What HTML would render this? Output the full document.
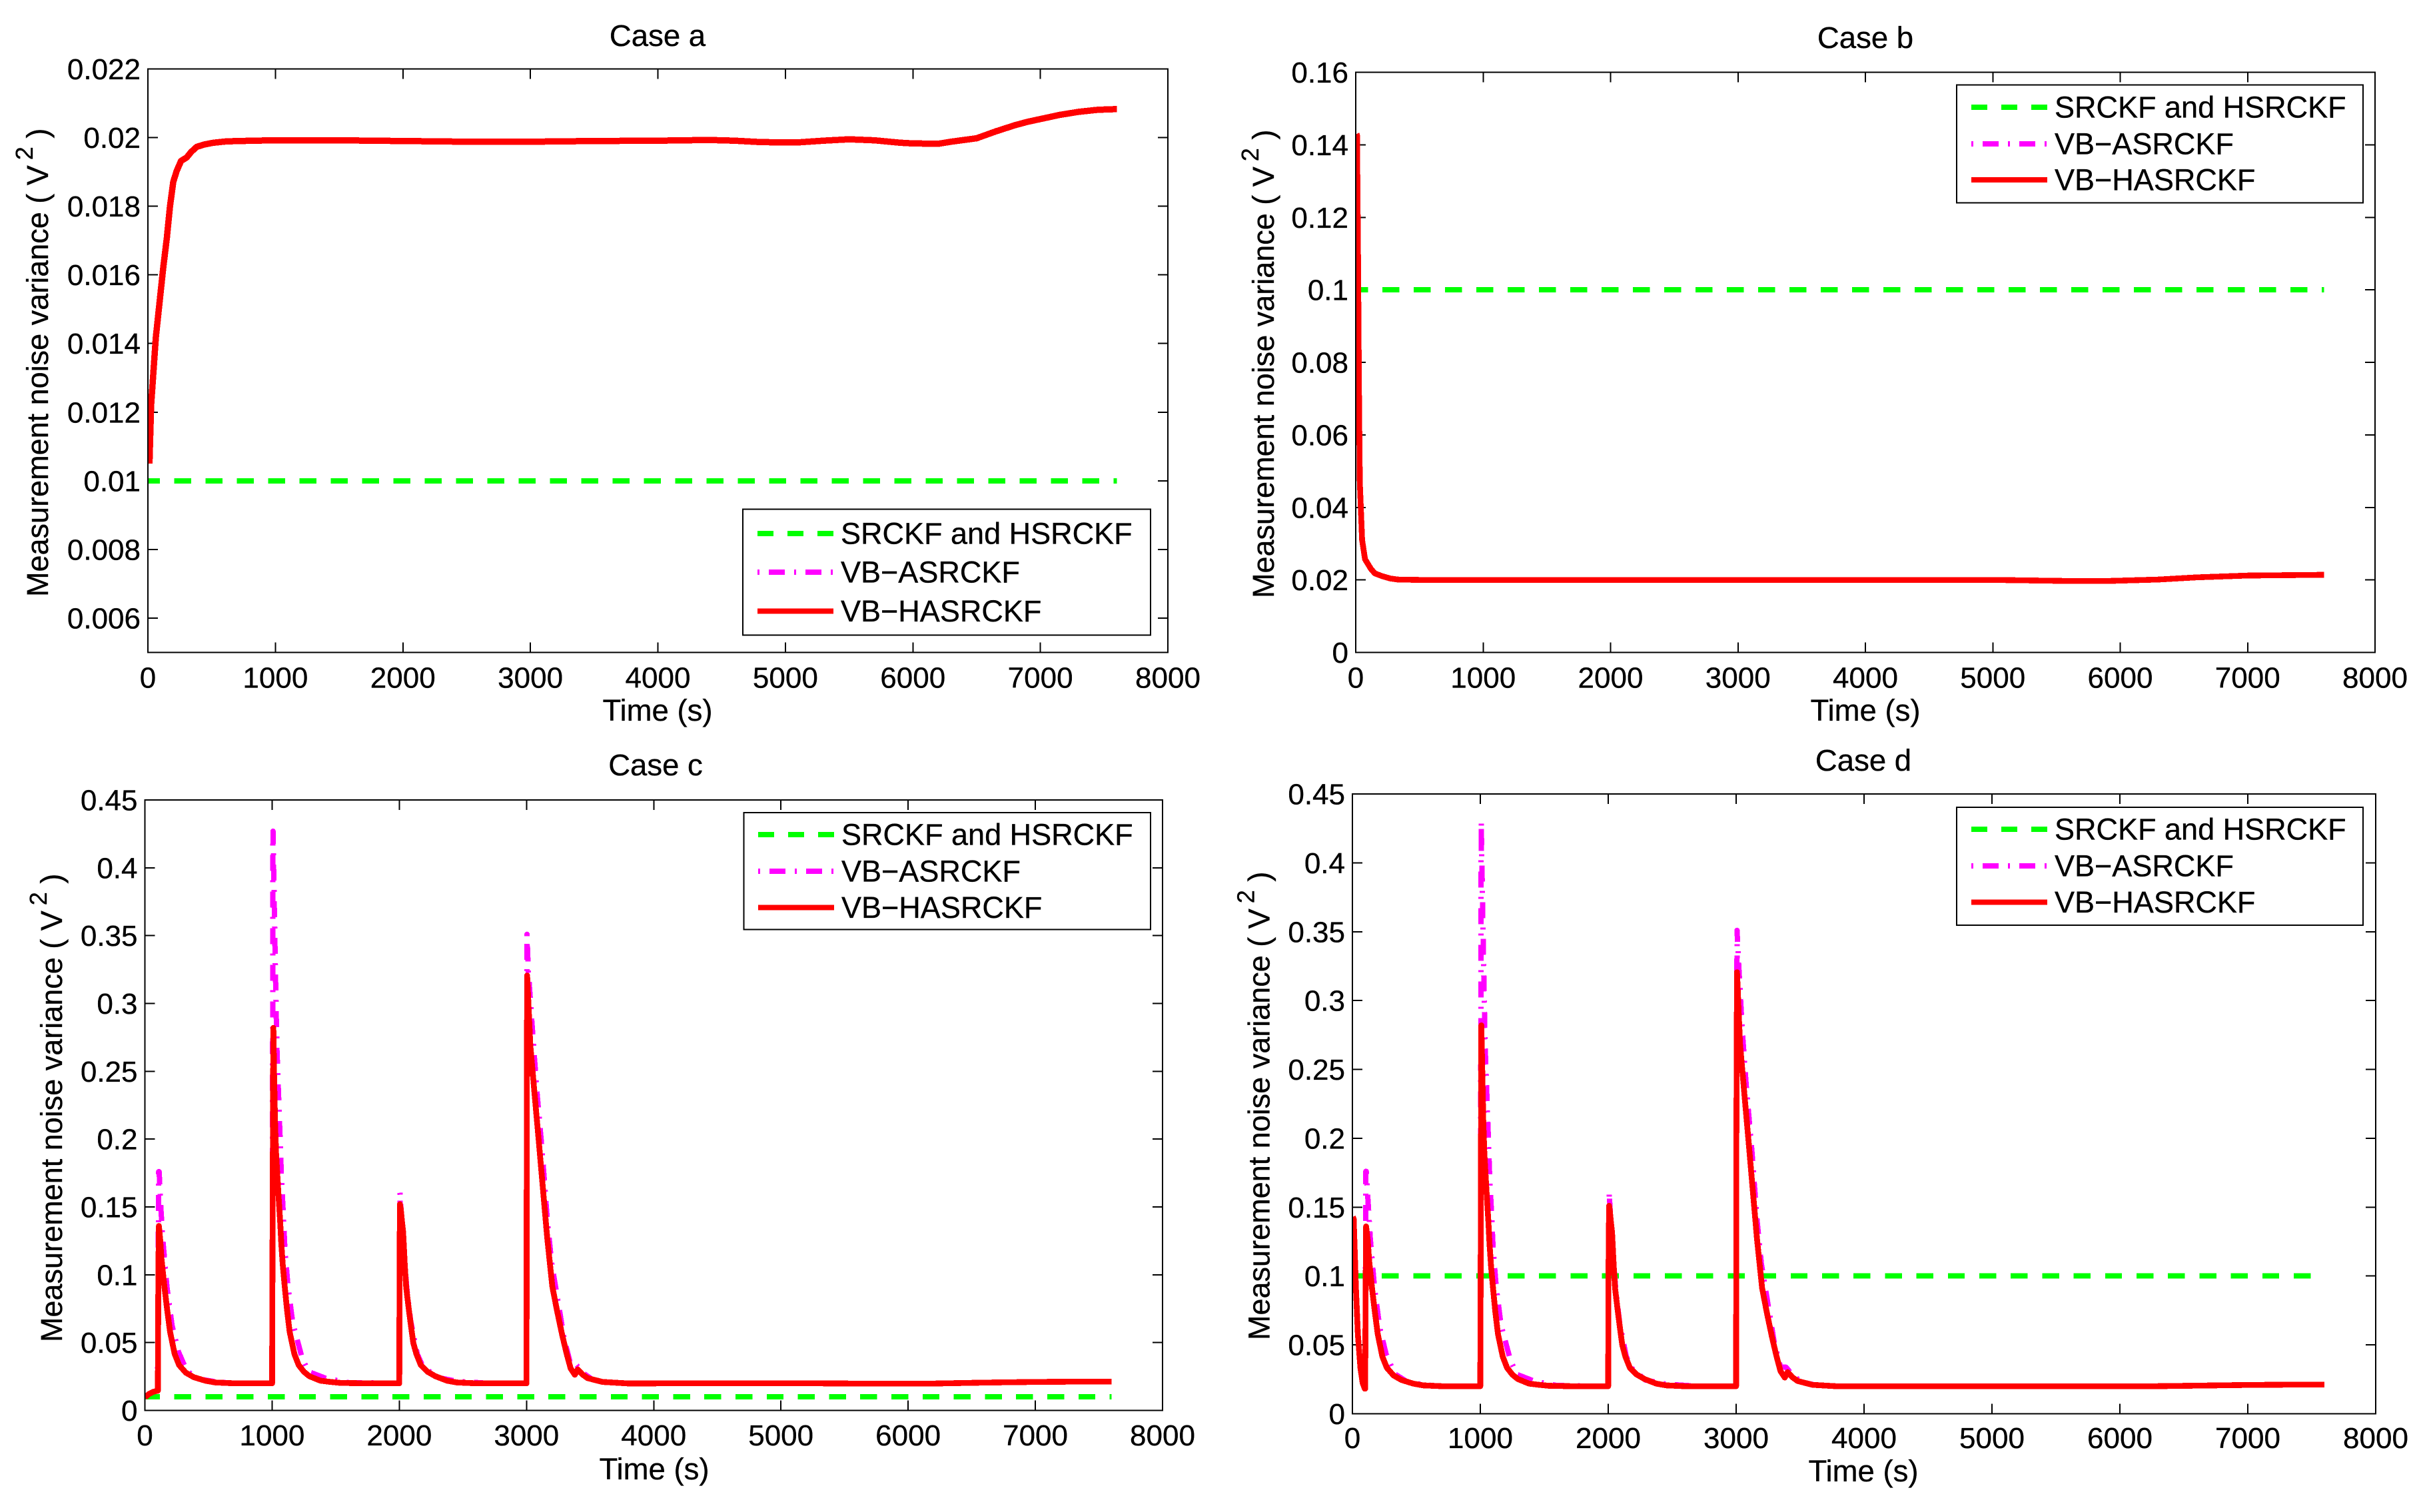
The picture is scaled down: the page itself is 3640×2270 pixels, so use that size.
<!DOCTYPE html>
<html lang="en">
<head>
<meta charset="utf-8">
<title>Measurement noise variance, cases a to d</title>
<style>
  html, body { margin: 0; padding: 0; background: #fff; }
  svg { display: block; }
  text { font-family: "Liberation Sans", Arial, sans-serif; font-size: 44px; fill: #000; stroke: #000; stroke-width: 0.35px; }
  text.axis-title { font-size: 45.5px; }
  text.y-title { font-size: 45px; }
  text.legend-label { font-size: 45px; }
  line, rect, path { shape-rendering: crispEdges; }
</style>
</head>
<body>
<svg id="figure" xmlns="http://www.w3.org/2000/svg" width="3640" height="2270" viewBox="0 0 3640 2270">
  <rect x="0" y="0" width="3640" height="2270" fill="#fff"/>

  <g id="panel-a">
    <text class="axis-title" x="987" y="69" text-anchor="middle">Case a</text>
    <g id="plot-a"></g>
    <text class="axis-title" x="987" y="1082" text-anchor="middle">Time (s)</text>
    <text class="y-title" transform="translate(72,896) rotate(-90)">Measurement noise variance ( V<tspan dx="8" dy="-23" font-size="36">2</tspan><tspan dy="23"> )</tspan></text>
    <g>
      <rect x="1115" y="764.5" width="612" height="189" fill="#fff" stroke="#000" stroke-width="2"/>
      <line x1="1137" x2="1251" y1="801" y2="801" stroke="#00ff00" stroke-width="8" stroke-dasharray="24 21"/>
      <line x1="1137" x2="1251" y1="859" y2="859" stroke="#ff00ff" stroke-width="8" stroke-dasharray="3 14 24 14"/>
      <line x1="1137" x2="1251" y1="917.5" y2="917.5" stroke="#ff0000" stroke-width="8"/>
      <text class="legend-label" x="1262" y="816.5">SRCKF and HSRCKF</text>
      <text class="legend-label" x="1262" y="874.5">VB−ASRCKF</text>
      <text class="legend-label" x="1262" y="933">VB−HASRCKF</text>
    </g>
  </g>

  <g id="panel-b">
    <text class="axis-title" x="2800" y="72" text-anchor="middle">Case b</text>
    <g id="plot-b"></g>
    <text class="axis-title" x="2800" y="1082" text-anchor="middle">Time (s)</text>
    <text class="y-title" transform="translate(1912,898) rotate(-90)">Measurement noise variance ( V<tspan dx="8" dy="-23" font-size="36">2</tspan><tspan dy="23"> )</tspan></text>
    <g>
      <rect x="2937" y="127.5" width="610" height="177" fill="#fff" stroke="#000" stroke-width="2"/>
      <line x1="2959" x2="3073" y1="161" y2="161" stroke="#00ff00" stroke-width="8" stroke-dasharray="24 21"/>
      <line x1="2959" x2="3073" y1="216" y2="216" stroke="#ff00ff" stroke-width="8" stroke-dasharray="3 14 24 14"/>
      <line x1="2959" x2="3073" y1="270" y2="270" stroke="#ff0000" stroke-width="8"/>
      <text class="legend-label" x="3084" y="176.5">SRCKF and HSRCKF</text>
      <text class="legend-label" x="3084" y="231.5">VB−ASRCKF</text>
      <text class="legend-label" x="3084" y="285.5">VB−HASRCKF</text>
    </g>
  </g>

  <g id="panel-c">
    <text class="axis-title" x="984" y="1164" text-anchor="middle">Case c</text>
    <g id="plot-c"></g>
    <text class="axis-title" x="982" y="2221" text-anchor="middle">Time (s)</text>
    <text class="y-title" transform="translate(93,2015) rotate(-90)">Measurement noise variance ( V<tspan dx="8" dy="-23" font-size="36">2</tspan><tspan dy="23"> )</tspan></text>
    <g>
      <rect x="1116.5" y="1220" width="610.5" height="175.5" fill="#fff" stroke="#000" stroke-width="2"/>
      <line x1="1138" x2="1252" y1="1253" y2="1253" stroke="#00ff00" stroke-width="8" stroke-dasharray="24 21"/>
      <line x1="1138" x2="1252" y1="1308" y2="1308" stroke="#ff00ff" stroke-width="8" stroke-dasharray="3 14 24 14"/>
      <line x1="1138" x2="1252" y1="1362.5" y2="1362.5" stroke="#ff0000" stroke-width="8"/>
      <text class="legend-label" x="1263" y="1268.5">SRCKF and HSRCKF</text>
      <text class="legend-label" x="1263" y="1323.5">VB−ASRCKF</text>
      <text class="legend-label" x="1263" y="1378">VB−HASRCKF</text>
    </g>
  </g>

  <g id="panel-d">
    <text class="axis-title" x="2797" y="1157" text-anchor="middle">Case d</text>
    <g id="plot-d"></g>
    <text class="axis-title" x="2797" y="2224" text-anchor="middle">Time (s)</text>
    <text class="y-title" transform="translate(1905.5,2012) rotate(-90)">Measurement noise variance ( V<tspan dx="8" dy="-23" font-size="36">2</tspan><tspan dy="23"> )</tspan></text>
    <g>
      <rect x="2937" y="1212" width="610" height="177" fill="#fff" stroke="#000" stroke-width="2"/>
      <line x1="2959" x2="3073" y1="1245" y2="1245" stroke="#00ff00" stroke-width="8" stroke-dasharray="24 21"/>
      <line x1="2959" x2="3073" y1="1300" y2="1300" stroke="#ff00ff" stroke-width="8" stroke-dasharray="3 14 24 14"/>
      <line x1="2959" x2="3073" y1="1354.5" y2="1354.5" stroke="#ff0000" stroke-width="8"/>
      <text class="legend-label" x="3084" y="1260.5">SRCKF and HSRCKF</text>
      <text class="legend-label" x="3084" y="1315.5">VB−ASRCKF</text>
      <text class="legend-label" x="3084" y="1370">VB−HASRCKF</text>
    </g>
  </g>
</svg>

<script>
const xTickValues = [0, 1000, 2000, 3000, 4000, 5000, 6000, 7000, 8000];
const xTickLabels = ['0', '1000', '2000', '3000', '4000', '5000', '6000', '7000', '8000'];

const caseAYTickValues = [0.006, 0.008, 0.01, 0.012, 0.014, 0.016, 0.018, 0.02, 0.022];
const caseAYTickLabels = ['0.006', '0.008', '0.01', '0.012', '0.014', '0.016', '0.018', '0.02', '0.022'];
const caseBYTickValues = [0, 0.02, 0.04, 0.06, 0.08, 0.1, 0.12, 0.14, 0.16];
const caseBYTickLabels = ['0', '0.02', '0.04', '0.06', '0.08', '0.1', '0.12', '0.14', '0.16'];
const caseCDYTickValues = [0, 0.05, 0.1, 0.15, 0.2, 0.25, 0.3, 0.35, 0.4, 0.45];
const caseCDYTickLabels = ['0', '0.05', '0.1', '0.15', '0.2', '0.25', '0.3', '0.35', '0.4', '0.45'];

const baselineTimes = [0, 7600];
const caseABaseline = [0.01, 0.01];
const caseBBaseline = [0.1, 0.1];
const caseCBaseline = [0.01, 0.01];
const caseDBaseline = [0.1, 0.1];

const caseATimes = [12, 25, 62, 120, 149, 173, 199, 226, 260, 304, 339, 383, 444, 514, 619, 829, 1000, 1500, 2000, 2500, 3000, 3500, 4000, 4400, 4600, 4800, 4950, 5100, 5300, 5500, 5700, 5900, 6000, 6200, 6300, 6500, 6650, 6800, 6900, 7000, 7150, 7300, 7450, 7600];
const caseAHybrid = [0.0105, 0.01219, 0.01417, 0.0162, 0.01709, 0.01799, 0.01871, 0.01903, 0.01932, 0.01942, 0.01958, 0.01973, 0.0198, 0.01985, 0.01989, 0.01991, 0.01992, 0.01992, 0.0199, 0.01988, 0.01988, 0.0199, 0.01991, 0.01993, 0.01991, 0.01987, 0.01986, 0.01986, 0.01991, 0.01995, 0.01992, 0.01985, 0.01983, 0.01982, 0.01988, 0.01998, 0.02018, 0.02036, 0.02046, 0.02054, 0.02066, 0.02075, 0.02081, 0.02083];
const caseAAdaptive = [0.0105, 0.01219, 0.01417, 0.0162, 0.01709, 0.01799, 0.01871, 0.01903, 0.01932, 0.01942, 0.01958, 0.01973, 0.0198, 0.01985, 0.01989, 0.01991, 0.01992, 0.01992, 0.0199, 0.01988, 0.01988, 0.0199, 0.01991, 0.01993, 0.01991, 0.01987, 0.01986, 0.01986, 0.01991, 0.01995, 0.01992, 0.01985, 0.01983, 0.01982, 0.01988, 0.01998, 0.02018, 0.02036, 0.02046, 0.02054, 0.02066, 0.02075, 0.02081, 0.02083];

const caseBTimes = [6, 10, 18, 25, 32, 50, 73, 120, 150, 210, 270, 330, 500, 1000, 2000, 3000, 4000, 5000, 5600, 5900, 6000, 6300, 6600, 7000, 7600];
const caseBHybrid = [0.143, 0.1427, 0.109, 0.0735, 0.047, 0.031, 0.0257, 0.023, 0.0218, 0.021, 0.0204, 0.0201, 0.02, 0.02, 0.02, 0.02, 0.02, 0.02, 0.0197, 0.0197, 0.0198, 0.0201, 0.0207, 0.0212, 0.0214];
const caseBAdaptive = [0.143, 0.1427, 0.109, 0.0735, 0.047, 0.031, 0.0257, 0.023, 0.0218, 0.021, 0.0204, 0.0201, 0.02, 0.02, 0.02, 0.02, 0.02, 0.02, 0.0197, 0.0197, 0.0198, 0.0201, 0.0207, 0.0212, 0.0214];

const caseCHybridTimes = [
  0, 30, 60, 95, 102, 106, 110, 120, 130, 154, 175, 198, 234, 269, 322, 384, 475, 553, 700, 998,
  1000, 1004, 1010, 1015, 1023, 1031, 1042, 1052, 1063, 1072, 1084, 1100, 1117, 1138, 1175, 1209, 1250, 1293, 1380, 1450, 1537, 1712, 1998,
  2000, 2002, 2005, 2012, 2020, 2030, 2043, 2054, 2075, 2098, 2110, 2134, 2169, 2222, 2284, 2375, 2453, 2600, 2998,
  3000, 3002, 3005, 3030, 3063, 3097, 3130, 3163, 3203, 3240, 3280, 3315, 3347, 3380, 3403, 3440, 3480, 3597, 3797,
  4500, 5200, 5800, 6200, 6600, 7000, 7300, 7600];
const caseCHybridValues = [
  0.0095, 0.012, 0.0135, 0.0145, 0.0145, 0.1, 0.136, 0.126, 0.112, 0.0907, 0.0743, 0.0579, 0.0416, 0.0334, 0.0278, 0.0245, 0.0219, 0.0206, 0.02, 0.02,
  0.02, 0.14, 0.282, 0.25, 0.213, 0.19, 0.172, 0.156, 0.1398, 0.1234, 0.107, 0.0907, 0.0743, 0.0579, 0.0416, 0.0334, 0.0285, 0.0252, 0.0219, 0.0211, 0.0203, 0.02, 0.02,
  0.02, 0.1, 0.152, 0.148, 0.14, 0.1316, 0.107, 0.0907, 0.0743, 0.0579, 0.0498, 0.0416, 0.0334, 0.0285, 0.0252, 0.0219, 0.0206, 0.02, 0.02,
  0.02, 0.2, 0.3206, 0.269, 0.2336, 0.198, 0.1624, 0.127, 0.0913, 0.0735, 0.0558, 0.042, 0.0309, 0.0263, 0.0302, 0.0265, 0.0238, 0.021, 0.0199,
  0.02, 0.02, 0.0197, 0.0198, 0.0205, 0.021, 0.0212, 0.0213];
const caseCAdaptiveTimes = [
  0, 30, 60, 95, 100, 108, 112, 125, 140, 173, 213, 263, 330, 430, 563, 700, 998,
  1000, 1007, 1023, 1037, 1063, 1073, 1089, 1100, 1124, 1162, 1237, 1288, 1424, 1600, 1998,
  2000, 2005, 2031, 2045, 2058, 2089, 2141, 2180, 2290, 2450, 2700, 2998,
  3000, 3004, 3013, 3047, 3080, 3123, 3163, 3197, 3247, 3297, 3347, 3390, 3447, 3513, 3630, 3863,
  4500, 5200, 5800, 6200, 6600, 7000, 7300, 7600];
const caseCAdaptiveValues = [
  0.0095, 0.012, 0.0135, 0.0145, 0.0145, 0.176, 0.176, 0.15, 0.127, 0.0913, 0.0629, 0.0434, 0.029, 0.0231, 0.021, 0.02, 0.02,
  0.02, 0.427, 0.34, 0.269, 0.2, 0.1725, 0.143, 0.12, 0.0923, 0.0645, 0.0383, 0.0285, 0.0236, 0.0205, 0.02,
  0.02, 0.161, 0.122, 0.107, 0.0907, 0.0661, 0.0416, 0.0334, 0.0245, 0.0215, 0.02, 0.02,
  0.02, 0.351, 0.326, 0.28, 0.237, 0.191, 0.141, 0.109, 0.0807, 0.0523, 0.0338, 0.0338, 0.0274, 0.0231, 0.0206, 0.0199,
  0.02, 0.02, 0.0197, 0.0198, 0.0205, 0.021, 0.0212, 0.0213];

const caseDHybridTimes = [
  3, 10, 27, 43, 63, 80, 97, 100, 103, 107, 120, 130, 154, 175, 198, 234, 269, 322, 384, 475, 553, 700, 998,
  1000, 1004, 1008, 1015, 1023, 1031, 1042, 1052, 1063, 1072, 1084, 1100, 1117, 1138, 1175, 1209, 1250, 1293, 1380, 1450, 1537, 1712, 1998,
  2000, 2002, 2007, 2012, 2020, 2030, 2043, 2054, 2075, 2098, 2110, 2134, 2169, 2222, 2284, 2375, 2453, 2600, 2998,
  3000, 3002, 3007, 3030, 3063, 3097, 3130, 3163, 3203, 3240, 3280, 3315, 3347, 3380, 3403, 3440, 3480, 3597, 3797,
  4500, 5200, 5800, 6200, 6600, 7000, 7300, 7600];
const caseDHybridValues = [
  0.143, 0.1415, 0.0925, 0.0574, 0.033, 0.0224, 0.0182, 0.0182, 0.08, 0.136, 0.126, 0.112, 0.0907, 0.0743, 0.0579, 0.0416, 0.0334, 0.0278, 0.0245, 0.0219, 0.0206, 0.02, 0.02,
  0.02, 0.14, 0.282, 0.25, 0.213, 0.19, 0.172, 0.156, 0.1398, 0.1234, 0.107, 0.0907, 0.0743, 0.0579, 0.0416, 0.0334, 0.0285, 0.0252, 0.0219, 0.0211, 0.0203, 0.02, 0.02,
  0.02, 0.1, 0.151, 0.148, 0.14, 0.1316, 0.107, 0.0907, 0.0743, 0.0579, 0.0498, 0.0416, 0.0334, 0.0285, 0.0252, 0.0219, 0.0206, 0.02, 0.02,
  0.02, 0.2, 0.3206, 0.269, 0.2336, 0.198, 0.1624, 0.127, 0.0913, 0.0735, 0.0558, 0.042, 0.0309, 0.0263, 0.0302, 0.0265, 0.0238, 0.021, 0.0199,
  0.02, 0.02, 0.0199, 0.0199, 0.0204, 0.0209, 0.0211, 0.0212];
const caseDAdaptiveTimes = [
  3, 10, 27, 43, 63, 80, 97, 100, 105, 108, 125, 140, 173, 213, 263, 330, 430, 563, 700, 998,
  1000, 1007, 1023, 1037, 1063, 1073, 1089, 1100, 1124, 1162, 1237, 1288, 1424, 1600, 1998,
  2000, 2007, 2031, 2045, 2058, 2089, 2141, 2180, 2290, 2450, 2700, 2998,
  3000, 3007, 3020, 3047, 3080, 3123, 3163, 3197, 3247, 3297, 3347, 3390, 3447, 3513, 3630, 3863,
  4500, 5200, 5800, 6200, 6600, 7000, 7300, 7600];
const caseDAdaptiveValues = [
  0.143, 0.1415, 0.0925, 0.0574, 0.033, 0.0224, 0.0182, 0.0182, 0.176, 0.176, 0.15, 0.127, 0.0913, 0.0629, 0.0434, 0.029, 0.0231, 0.021, 0.02, 0.02,
  0.02, 0.43, 0.34, 0.269, 0.2, 0.1725, 0.143, 0.12, 0.0923, 0.0645, 0.0383, 0.0285, 0.0236, 0.0205, 0.02,
  0.02, 0.161, 0.122, 0.107, 0.0907, 0.0661, 0.0416, 0.0334, 0.0245, 0.0215, 0.02, 0.02,
  0.02, 0.351, 0.326, 0.28, 0.237, 0.191, 0.141, 0.109, 0.0807, 0.0523, 0.0338, 0.0338, 0.0274, 0.0231, 0.0206, 0.0199,
  0.02, 0.02, 0.0199, 0.0199, 0.0204, 0.0209, 0.0211, 0.0212];

const SVG_NS = 'http://www.w3.org/2000/svg';

function svgEl(tag, attrs) {
  const el = document.createElementNS(SVG_NS, tag);
  for (const key in attrs) el.setAttribute(key, attrs[key]);
  return el;
}

function drawPanel(cfg) {
  const root = document.getElementById('plot-' + cfg.id);
  const xScale = t => cfg.left + (t / cfg.xMax) * (cfg.right - cfg.left);
  const yScale = v => cfg.bottom - ((v - cfg.yMin) / (cfg.yMax - cfg.yMin)) * (cfg.bottom - cfg.top);

  const frame = svgEl('rect', { x: cfg.left, y: cfg.top, width: cfg.right - cfg.left, height: cfg.bottom - cfg.top, fill: 'none', stroke: '#000', 'stroke-width': 2 });
  
  
  root.appendChild(frame);

  xTickValues.forEach((value, i) => {
    const px = xScale(value);
    [[cfg.bottom, cfg.bottom - 15], [cfg.top, cfg.top + 15]].forEach(pair => {
      const tick = svgEl('line', { x1: px, x2: px, y1: pair[0], y2: pair[1], stroke: '#000', 'stroke-width': 2 });
      
      
      root.appendChild(tick);
    });
    const label = svgEl('text', { x: px, y: cfg.xLabelBaseline, 'text-anchor': 'middle' });
    
    
    label.textContent = xTickLabels[i];
    root.appendChild(label);
  });

  cfg.yTicks.forEach((value, i) => {
    const py = yScale(value);
    [[cfg.left, cfg.left + 15], [cfg.right, cfg.right - 15]].forEach(pair => {
      const tick = svgEl('line', { x1: pair[0], x2: pair[1], y1: py, y2: py, stroke: '#000', 'stroke-width': 2 });
      
      
      root.appendChild(tick);
    });
    const label = svgEl('text', { x: cfg.left - 11, y: py + 15.5, 'text-anchor': 'end' });
    
    
    label.textContent = cfg.yLabels[i];
    root.appendChild(label);
  });

  const clipId = 'clip-' + cfg.id;
  const clip = svgEl('clipPath', { id: clipId });
  clip.appendChild(svgEl('rect', { x: cfg.left + 1, y: cfg.top + 1, width: cfg.right - cfg.left - 2, height: cfg.bottom - cfg.top - 2 }));
  root.appendChild(clip);

  const linePath = (times, values) => times.map((t, i) => (i ? 'L' : 'M') + xScale(t).toFixed(2) + ' ' + yScale(values[i]).toFixed(2)).join('');
  const common = { fill: 'none', 'stroke-linejoin': 'round', 'clip-path': 'url(#' + clipId + ')' };

  const baseline = svgEl('path', Object.assign({ d: linePath(baselineTimes, cfg.baseline), stroke: '#00ff00', 'stroke-width': 8, 'stroke-dasharray': '25.4 ' + (cfg.dashPeriod - 25.4), 'stroke-dashoffset': cfg.dashOffset }, common));
  
  
  root.appendChild(baseline);

  const adaptive = svgEl('path', Object.assign({ d: linePath(cfg.adaptiveTimes, cfg.adaptive), stroke: '#ff00ff', 'stroke-width': 8, 'stroke-dasharray': '3 14 24 14' }, common));
  
  
  root.appendChild(adaptive);

  const hybrid = svgEl('path', Object.assign({ d: linePath(cfg.hybridTimes, cfg.hybrid), stroke: '#ff0000', 'stroke-width': cfg.redWidth }, common));
  
  
  root.appendChild(hybrid);
}

drawPanel({ id: 'a', left: 222, right: 1753, top: 103.5, bottom: 979.5, xMax: 8000, yMin: 0.005, yMax: 0.022, xLabelBaseline: 1032.5, dashPeriod: 47, dashOffset: 7.5, redWidth: 9.5, yTicks: caseAYTickValues, yLabels: caseAYTickLabels, baseline: caseABaseline, adaptiveTimes: caseATimes, adaptive: caseAAdaptive, hybridTimes: caseATimes, hybrid: caseAHybrid });
drawPanel({ id: 'b', left: 2035, right: 3565, top: 108.5, bottom: 979.5, xMax: 8000, yMin: 0, yMax: 0.16, xLabelBaseline: 1032.5, dashPeriod: 47, dashOffset: 7, redWidth: 8.7, yTicks: caseBYTickValues, yLabels: caseBYTickLabels, baseline: caseBBaseline, adaptiveTimes: caseBTimes, adaptive: caseBAdaptive, hybridTimes: caseBTimes, hybrid: caseBHybrid });
drawPanel({ id: 'c', left: 217.5, right: 1745, top: 1201, bottom: 2117.5, xMax: 8000, yMin: 0, yMax: 0.45, xLabelBaseline: 2170, dashPeriod: 46.8, dashOffset: 2.7, redWidth: 8.7, yTicks: caseCDYTickValues, yLabels: caseCDYTickLabels, baseline: caseCBaseline, adaptiveTimes: caseCAdaptiveTimes, adaptive: caseCAdaptiveValues, hybridTimes: caseCHybridTimes, hybrid: caseCHybridValues });
drawPanel({ id: 'd', left: 2030, right: 3566, top: 1192, bottom: 2122.5, xMax: 8000, yMin: 0, yMax: 0.45, xLabelBaseline: 2174, dashPeriod: 47.2, dashOffset: 3, redWidth: 8.7, yTicks: caseCDYTickValues, yLabels: caseCDYTickLabels, baseline: caseDBaseline, adaptiveTimes: caseDAdaptiveTimes, adaptive: caseDAdaptiveValues, hybridTimes: caseDHybridTimes, hybrid: caseDHybridValues });
</script>
</body>
</html>
